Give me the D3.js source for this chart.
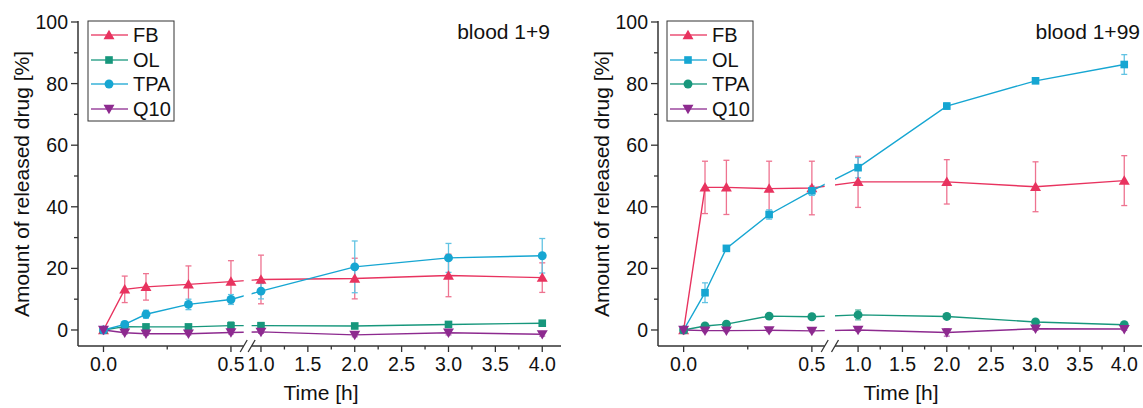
<!DOCTYPE html>
<html><head><meta charset="utf-8">
<script src="https://cdn.jsdelivr.net/npm/d3@7"></script>
<style>
html,body{margin:0;padding:0;background:#fff;}
svg{display:block;font-family:"Liberation Sans",Arial,Helvetica,sans-serif;}
</style></head>
<body>
<svg id="chart" width="1143" height="408"></svg>
<script>
// ---------- data ----------
const times = [0, 0.0833, 0.1667, 0.3333, 0.5, 1, 2, 3, 4];
const seriesNames9 = ["FB", "OL", "TPA", "Q10"];
const seriesNames99 = ["FB", "OL", "TPA", "Q10"];

const fb9 = [0, 13.2, 14.0, 14.8, 15.7, 16.4, 16.7, 17.7, 17.0];
const fb9Err = [0, 4.3, 4.3, 6.0, 6.8, 7.9, 6.6, 6.9, 4.8];
const ol9 = [0, 1.1, 1.0, 1.0, 1.4, 1.4, 1.3, 1.8, 2.2];
const ol9Err = [0, 0.4, 0.5, 0.5, 1.2, 1.0, 0.6, 0.7, 0.6];
const tpa9 = [0, 1.8, 5.1, 8.3, 9.9, 12.6, 20.5, 23.4, 24.1];
const tpa9Err = [0, 1.0, 1.3, 1.7, 1.6, 2.5, 8.4, 4.7, 5.6];
const q10_9 = [0, -0.9, -1.2, -1.2, -0.8, -0.6, -1.6, -0.9, -1.4];
const q10_9Err = [0, 0.4, 0.5, 0.4, 0.5, 0.5, 0.6, 0.7, 0.6];

const fb99 = [0, 46.3, 46.3, 45.9, 46.1, 48.1, 48.1, 46.5, 48.5];
const fb99Err = [0, 8.5, 8.8, 8.9, 8.7, 8.3, 7.2, 8.1, 8.1];
const ol99 = [0, 12.1, 26.5, 37.5, 45.2, 52.7, 72.7, 80.9, 86.2];
const ol99Err = [0, 3.2, 0.8, 1.5, 1.5, 3.3, 1.0, 0.8, 3.2];
const tpa99 = [0, 1.3, 1.9, 4.5, 4.3, 4.9, 4.4, 2.6, 1.7];
const tpa99Err = [0, 0.4, 0.5, 0.6, 0.5, 1.6, 0.6, 0.5, 0.6];
const q10_99 = [0, -0.2, -0.2, -0.1, -0.3, 0.0, -0.8, 0.4, 0.3];
const q10_99Err = [0, 0.3, 0.3, 0.4, 0.3, 0.4, 1.2, 0.5, 0.4];

const xTicksSeg1 = [0, 0.5];
const xMinorSeg1 = [0.25];
const xTicksSeg2 = [1, 1.5, 2, 2.5, 3, 3.5, 4];
const xMinorSeg2 = [1.25, 1.75, 2.25, 2.75, 3.25, 3.75];
const yTicks = [0, 20, 40, 60, 80, 100];
const yMinor = [10, 30, 50, 70, 90];

// ---------- styling ----------
const C = {
  red: "#E8335F", redErr: "#EE7390",
  green: "#17977C", greenErr: "#5CBBA6",
  cyan: "#16A6D2", cyanErr: "#62C3E3",
  purple: "#8D2A8F", purpleErr: "#B66AB8"
};
const axisColor = "#333";
const svg = d3.select("#chart");

function panel(cfg) {
  const g = svg.append("g");
  const x = d3.scaleLinear()
    .domain([-0.1, 0.55, cfg.b2, 4.2])
    .range([cfg.axisX, cfg.gap0, cfg.gap1, cfg.endX]);
  const y = d3.scaleLinear().domain([-5.2, 100]).range([346, 22]);
  const yAxisY = 346;
  const id = "clip" + cfg.key;
  const cp = svg.append("defs").append("clipPath").attr("id", id);
  cp.append("rect").attr("x", cfg.axisX).attr("y", 0).attr("width", cfg.gap0 - cfg.axisX).attr("height", 408);
  cp.append("rect").attr("x", cfg.gap1).attr("y", 0).attr("width", cfg.endX - cfg.gap1 + 5).attr("height", 408);

  // axes
  g.append("line").attr("x1", cfg.axisX).attr("x2", cfg.axisX).attr("y1", yAxisY).attr("y2", y(100) - 1)
    .attr("stroke", axisColor).attr("stroke-width", 1.5);
  g.append("line").attr("x1", cfg.axisX).attr("x2", cfg.gap0).attr("y1", yAxisY).attr("y2", yAxisY)
    .attr("stroke", axisColor).attr("stroke-width", 1.5);
  g.append("line").attr("x1", cfg.gap1).attr("x2", cfg.endX).attr("y1", yAxisY).attr("y2", yAxisY)
    .attr("stroke", axisColor).attr("stroke-width", 1.5);
  // break marks
  [cfg.gap0, cfg.gap1].forEach(px => {
    g.append("line").attr("x1", px - 3.5).attr("y1", yAxisY + 6).attr("x2", px + 3.5).attr("y2", yAxisY - 6)
      .attr("stroke", axisColor).attr("stroke-width", 1.3);
  });
  // y ticks
  yTicks.forEach(v => {
    g.append("line").attr("x1", cfg.axisX - 7).attr("x2", cfg.axisX).attr("y1", y(v)).attr("y2", y(v))
      .attr("stroke", axisColor).attr("stroke-width", 1.3);
    g.append("text").attr("x", cfg.axisX - 10).attr("y", y(v)).attr("text-anchor", "end")
      .attr("dominant-baseline", "central").attr("font-size", 19.5).attr("fill", "#111").text(v);
  });
  yMinor.forEach(v => {
    g.append("line").attr("x1", cfg.axisX - 4).attr("x2", cfg.axisX).attr("y1", y(v)).attr("y2", y(v))
      .attr("stroke", axisColor).attr("stroke-width", 1.3);
  });
  // x ticks
  xTicksSeg1.concat(xTicksSeg2).forEach(v => {
    g.append("line").attr("x1", x(v)).attr("x2", x(v)).attr("y1", yAxisY).attr("y2", yAxisY + 6)
      .attr("stroke", axisColor).attr("stroke-width", 1.3);
    g.append("text").attr("x", x(v)).attr("y", 371).attr("text-anchor", "middle")
      .attr("font-size", 19.5).attr("fill", "#111").text(d3.format(".1f")(v));
  });
  xMinorSeg1.concat(xMinorSeg2).forEach(v => {
    g.append("line").attr("x1", x(v)).attr("x2", x(v)).attr("y1", yAxisY).attr("y2", yAxisY + 3.5)
      .attr("stroke", axisColor).attr("stroke-width", 1.3);
  });
  // titles
  g.append("text").attr("x", cfg.titleX).attr("y", 400).attr("text-anchor", "middle")
    .attr("font-size", 21).attr("fill", "#111").text("Time [h]");
  g.append("text").attr("transform", `translate(${cfg.axisX - 57},${184}) rotate(-90)`)
    .attr("text-anchor", "middle").attr("dominant-baseline", "central")
    .attr("font-size", 21).attr("fill", "#111").text("Amount of released drug [%]");
  g.append("text").attr("x", cfg.labelX).attr("y", 39).attr("text-anchor", "end")
    .attr("font-size", 21).attr("fill", "#111").text(cfg.label);

  const sym = {
    tri: d3.symbol().type(d3.symbolTriangle).size(52),
    sq: d3.symbol().type(d3.symbolSquare).size(58),
    circ: d3.symbol().type(d3.symbolCircle).size(62)
  };
  function marker(sel, s) {
    if (s.shape === "tri") return sel.append("path").attr("d", sym.tri()).attr("transform", "translate(0,1)");
    if (s.shape === "itri") return sel.append("path").attr("d", sym.tri()).attr("transform", "rotate(180) translate(0,1)");
    return sel.append("path").attr("d", sym[s.shape]());
  }

  // error bars
  cfg.series.forEach(s => {
    const eg = g.append("g").attr("stroke", s.err).attr("stroke-width", 1.3).attr("fill", "none");
    times.forEach((t, i) => {
      const e = s.e[i];
      if (!e) return;
      const px = x(t), y1 = y(s.v[i] + e), y2 = y(s.v[i] - e);
      eg.append("line").attr("x1", px).attr("x2", px).attr("y1", y1).attr("y2", y2);
      eg.append("line").attr("x1", px - 3).attr("x2", px + 3).attr("y1", y1).attr("y2", y1);
      eg.append("line").attr("x1", px - 3).attr("x2", px + 3).attr("y1", y2).attr("y2", y2);
    });
  });
  // lines
  const line = d3.line().x((d, i) => x(times[i])).y(d => y(d));
  cfg.series.forEach(s => {
    g.append("path").attr("d", line(s.v)).attr("fill", "none").attr("stroke", s.color)
      .attr("stroke-width", 1.4).attr("clip-path", `url(#${id})`);
  });
  // markers
  cfg.series.forEach(s => {
    times.forEach((t, i) => {
      const mg = g.append("g").attr("transform", `translate(${x(t)},${y(s.v[i])})`).attr("fill", s.color);
      marker(mg, s);
    });
  });

  // legend
  const lg = g.append("g");
  lg.append("rect").attr("x", cfg.legX).attr("y", 21).attr("width", 86).attr("height", 100)
    .attr("fill", "#fff").attr("stroke", axisColor).attr("stroke-width", 1);
  const rows = [35, 60, 84, 109];
  cfg.series.forEach((s, i) => {
    lg.append("line").attr("x1", cfg.legX + 3).attr("x2", cfg.legX + 40).attr("y1", rows[i]).attr("y2", rows[i])
      .attr("stroke", s.color).attr("stroke-width", 1.6).attr("opacity", 0.85);
    const mg = lg.append("g").attr("transform", `translate(${cfg.legX + 21},${rows[i]})`).attr("fill", s.color);
    marker(mg, s);
    lg.append("text").attr("x", cfg.legX + 45).attr("y", rows[i]).attr("dominant-baseline", "central")
      .attr("font-size", 20).attr("fill", "#111").text(cfg.names[i]);
  });
}

panel({
  key: "a", axisX: 78, gap0: 243.7, gap1: 251.6, b2: 0.9, endX: 561,
  titleX: 321, labelX: 550, label: "blood 1+9", legX: 88, names: seriesNames9,
  series: [
    {v: fb9, e: fb9Err, color: C.red, err: C.redErr, shape: "tri"},
    {v: ol9, e: ol9Err, color: C.green, err: C.greenErr, shape: "sq"},
    {v: tpa9, e: tpa9Err, color: C.cyan, err: C.cyanErr, shape: "circ"},
    {v: q10_9, e: q10_9Err, color: C.purple, err: C.purpleErr, shape: "itri"}
  ]
});
panel({
  key: "b", axisX: 658, gap0: 824.7, gap1: 835, b2: 0.74, endX: 1142,
  titleX: 901, labelX: 1140, label: "blood 1+99", legX: 667, names: seriesNames99,
  series: [
    {v: fb99, e: fb99Err, color: C.red, err: C.redErr, shape: "tri"},
    {v: ol99, e: ol99Err, color: C.cyan, err: C.cyanErr, shape: "sq"},
    {v: tpa99, e: tpa99Err, color: C.green, err: C.greenErr, shape: "circ"},
    {v: q10_99, e: q10_99Err, color: C.purple, err: C.purpleErr, shape: "itri"}
  ]
});
</script>
</body></html>
